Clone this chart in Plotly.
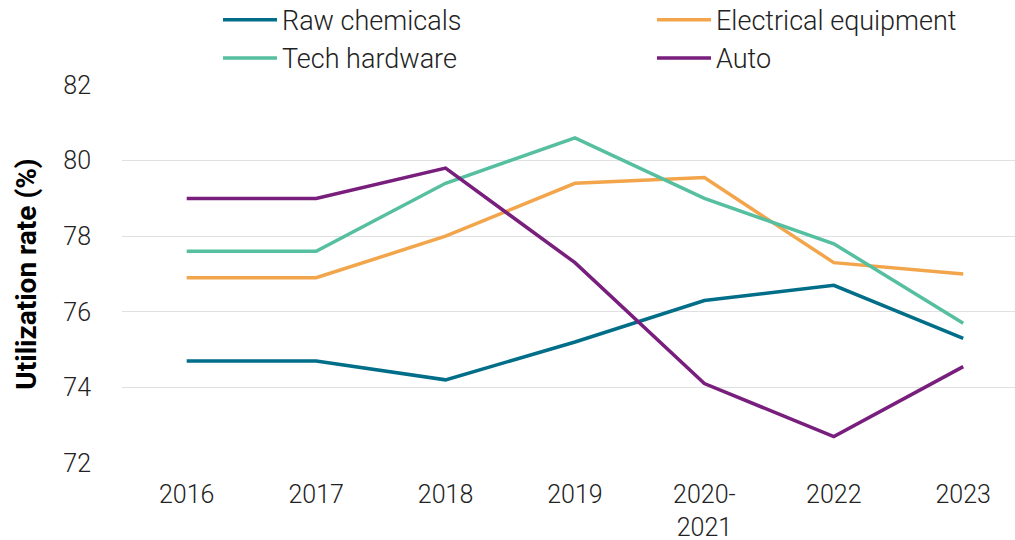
import plotly.graph_objects as go

categories = ["2016", "2017", "2018", "2019", "2020-<br>2021", "2022", "2023"]
raw_chemicals = [74.7, 74.7, 74.2, 75.2, 76.3, 76.7, 75.3]
electrical_equipment = [76.9, 76.9, 78.0, 79.4, 79.55, 77.3, 77.0]
tech_hardware = [77.6, 77.6, 79.4, 80.6, 79.0, 77.8, 75.7]
auto = [79.0, 79.0, 79.8, 77.3, 74.1, 72.7, 74.55]

series = [
    ("Raw chemicals", raw_chemicals, "#006E88", "legend"),
    ("Electrical equipment", electrical_equipment, "#F2A54A", "legend2"),
    ("Tech hardware", tech_hardware, "#55BFA0", "legend"),
    ("Auto", auto, "#781E7D", "legend2"),
]

fig = go.Figure()
for name, vals, color, lg in series:
    fig.add_trace(go.Scatter(
        x=categories, y=vals, name=name, mode="lines",
        line=dict(color=color, width=3.5), legend=lg, legendgroup=name,
    ))

font_family = "Roboto"
legend_font = dict(family=font_family, size=27, color="#222222", weight=300)
legend_common = dict(
    orientation="v", xref="paper", yref="paper", y=1.236, yanchor="top",
    xanchor="left", font=legend_font, bgcolor="rgba(0,0,0,0)",
    tracegroupgap=0, itemwidth=54,
)
fig.update_layout(
    width=1015, height=540,
    margin=dict(l=122, r=0, t=85, b=77, autoexpand=False),
    plot_bgcolor="white", paper_bgcolor="white",
    font=dict(family=font_family, size=25, color="#222222", weight=300),
    showlegend=True,
    legend=dict(x=0.1075, **legend_common),
    legend2=dict(x=0.5935, **legend_common),
    xaxis=dict(
        type="category", range=[-0.5, 6.4],
        showgrid=False, zeroline=False, showline=False,
        ticks="", ticklabelstandoff=14,
        tickfont=dict(family=font_family, size=25, color="#222222", weight=300),
    ),
    yaxis=dict(
        range=[72, 82], dtick=2, tick0=72,
        showgrid=True, gridcolor="#E0E0E0", gridwidth=1,
        zeroline=False, showline=False, ticks="",
        ticklabelstandoff=30,
        tickfont=dict(family=font_family, size=25, color="#222222", weight=300),
        title=dict(text="<b>Utilization rate (%)</b>", standoff=18,
                   font=dict(family=font_family, size=28, color="#000000")),
    ),
)

fig.write_html("out.html")
